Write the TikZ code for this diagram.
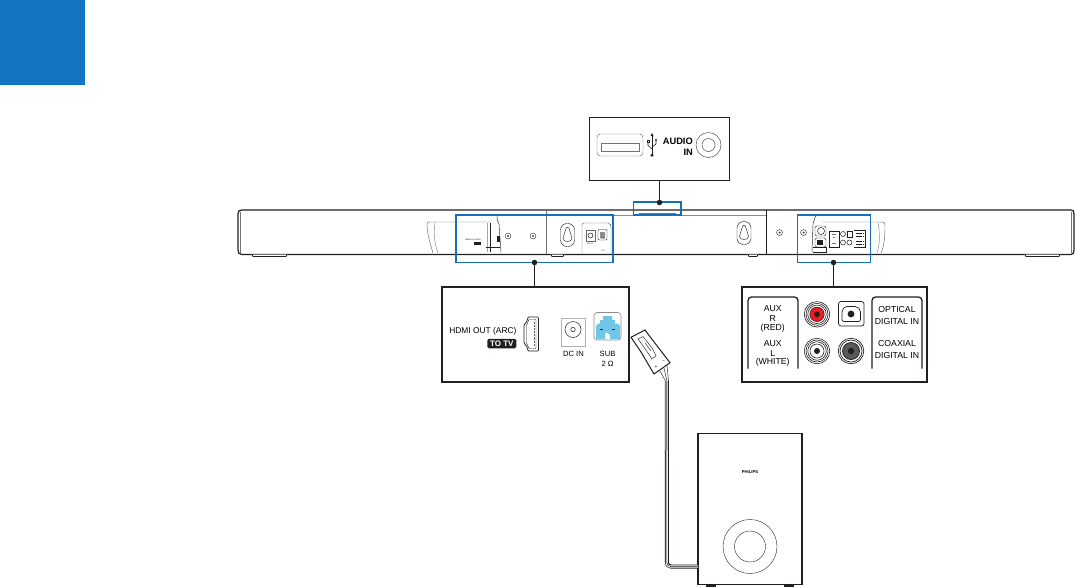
\documentclass[tikz,border=0pt]{standalone}
\usepackage{fontspec}
\setmainfont{Liberation Sans}
\definecolor{tabblue}{HTML}{1474C4}
\definecolor{callblue}{HTML}{1570B8}
\definecolor{inkdark}{HTML}{231F20}
\definecolor{subcyan}{HTML}{6FC6E6}
\definecolor{rcared}{HTML}{ED1C24}
\newcommand{\lbl}[1]{\fontsize{8.7}{10}\selectfont #1}
\newcommand{\tinylbl}[1]{\fontsize{2}{2}\selectfont #1}
\tikzset{
  x=1pt,y=-1pt,
  panel/.style={draw=inkdark,line width=2pt,fill=white,minimum width=#1,inner sep=0pt,outer sep=0pt},
  callout/.style={draw=callblue,line width=1.5pt,inner sep=0pt,outer sep=0pt},
  pin/.style={circle,fill=inkdark,minimum size=5.5pt,inner sep=0pt},
  leader/.style={draw=inkdark,line width=1.2pt},
  txt/.style={inner sep=0pt,font=\lbl{}},
  fine/.style={draw=inkdark,line width=.45pt},
  hair/.style={draw=black!55,line width=.45pt},
  barline/.style={draw=inkdark,line width=1.2pt},
  bracketline/.style={draw=inkdark,line width=1.3pt,rounded corners=3.5pt},
  screw/.style={circle,draw=inkdark,line width=.4pt,minimum size=6pt,inner sep=0pt},
  ring/.style={circle,draw=inkdark,line width=.5pt,inner sep=0pt},
}
\begin{document}
\begin{tikzpicture}
\useasboundingbox (0,0) rectangle (1075,587);
% blue tab
\node[fill=tabblue,minimum width=85pt,minimum height=85pt,inner sep=0pt,outer sep=0pt,anchor=north west] (tab) at (0,0) {};

% ---- sound bar
\draw[barline] (1071,210) -- (242,210) .. controls (239,210) and (238,211) .. (238,214)
  -- (238,250) .. controls (238,253) and (239,254.5) .. (242,254.5) -- (1071,254.5)
  .. controls (1073,254.5) and (1074,253) .. (1074,250) -- (1074,214) .. controls (1074,211) and (1073,210) .. (1071,210);
\draw[hair] (240,212) -- (240,253);
\draw[hair] (1071.5,212) -- (1071.5,253);
\draw[hair,draw=black!45] (546,215) -- (766,215);
\draw[draw=black!55,line width=.9pt] (546,210) -- (546,254);
\draw[draw=inkdark,line width=.8pt] (766,210) -- (766,254);
\draw[hair,line width=.8pt] (639,213.5) -- (676,213.5);
% feet
\foreach \a/\b in {252/287,551/564,748/758,1025/1060}
  \draw[draw=inkdark,line width=.8pt,fill=white] (\a,254.5) -- (\a+1,256.5) -- (\b-1,256.5) -- (\b,254.5);
% left end module
\draw[draw=black!60,line width=.45pt] (433,253) .. controls (429,240) and (427,232) .. (427,224) .. controls (427,222) and (428,222) .. (430,222) -- (490,222);
\draw[draw=black!45,line width=.5pt] (435,222.7) .. controls (433,235) and (435,245) .. (438,253);
\draw[draw=black!35,line width=.9pt] (487,223) -- (487,252);
\draw[fine] (490,223) -- (490,252);
\draw[fine] (497,216) .. controls (497,221) and (498,222) .. (499,224) -- (501,252.5);
\draw[fine] (486,247) -- (500,247);
\fill[inkdark] (497,236) rectangle (499.5,242);
\node[inner sep=0pt] (minihdmi) at (473,240) {\tinylbl{HDMI OUT (ARC)}};
\node[fill=inkdark,minimum width=7pt,minimum height=3pt,inner sep=0pt] (minitv) at (477,243.5) {};
% screws
\foreach \n/\x/\y in {s1/508/236,s2/533/236,s3/779.5/232.5,s4/803.5/232.5}{
  \node[screw] (\n) at (\x,\y) {};
  \fill[inkdark] (\x,\y) circle (1pt);
}
% keyholes
\foreach \x/\y in {567.5/235,744/233}{
  \draw[fine,rounded corners=6.5pt] (\x-7,\y-11.5) rectangle (\x+7,\y+11.5);
  \draw[fine] (\x-2,\y-5) .. controls (\x-2,\y-8.5) and (\x+2,\y-8.5) .. (\x+2,\y-5) .. controls (\x+2,\y-2) and (\x+4.5,\y+0) .. (\x+4.5,\y+3.5) .. controls (\x+4.5,\y+7.5) and (\x-4.5,\y+7.5) .. (\x-4.5,\y+3.5) .. controls (\x-4.5,\y+0) and (\x-2,\y-2) .. cycle;
}
% plate with DC / SUB
\draw[draw=black!60,line width=.45pt,rounded corners=2pt] (582,254) -- (582,223) -- (610,223) -- (611,226) -- (611,254);
\draw[draw=black!60,line width=.45pt] (586,230) rectangle (595,241);
\node[ring,minimum size=5pt] (miniDC) at (590.5,235.5) {};
\draw[fine,rounded corners=1pt] (598,229.5) rectangle (607,240);
\fill[black!45] (600,232) rectangle (605,238);
\node[inner sep=0pt] (miniDCt) at (590,243.5) {\tinylbl{DC IN}};
\node[inner sep=0pt,align=center] (miniSUBt) at (603,245) {\tinylbl{SUB}\\[-.5pt]\tinylbl{2 Ω}};
% right end module
\draw[draw=black!60,line width=.45pt] (823,222) -- (880,222) .. controls (884,222) and (885,222) .. (885,226) .. controls (885,238) and (884,246) .. (881,253);
\draw[draw=black!45,line width=.5pt] (878,222.5) .. controls (880,235) and (880,244) .. (877,253);
\draw[fine] (815.5,216) -- (813,224) -- (812,252);
\draw[fine] (813,252) -- (826,252) -- (826,247) -- (813,247);
\draw[fine,rounded corners=1.5pt] (815,226) rectangle (826,236);
\draw[fine,rounded corners=1.5pt] (815,238) rectangle (826,247);
\node[ring,minimum size=7pt] (miniA) at (821,231) {};
\fill[inkdark] (817,240) rectangle (823,245);
\draw[fine] (829,231) -- (839,231) -- (839,247) -- (829,247) -- cycle;
\draw[hair] (832,234) -- (836,234) (833,237) -- (835,237) (832,243) -- (836,243);
\node[ring,minimum size=5pt] (miniB) at (843,234) {};
\node[ring,minimum size=5pt] (miniC) at (843,242.5) {};
\draw[fine] (847,231) rectangle (852,237);
\node[ring,minimum size=5pt] (miniD) at (849.5,242.5) {};
\draw[fine] (854,230) -- (865,230) -- (865,247) -- (854,247);
\foreach \y in {233.5,236.5,241.5,244.5}
  \draw[inkdark,line width=1pt,dash pattern=on 1.2pt off .7pt] (855.5,\y) -- (864,\y);

% ---- callouts on the bar
\node[callout,minimum width=157pt,minimum height=47.5pt,anchor=north west] (callL) at (456,215) {};
\node[callout,minimum width=73pt,minimum height=47.5pt,anchor=north west] (callR) at (797.5,215) {};
\node[callout,minimum width=47.5pt,minimum height=13pt,anchor=north west] (callT) at (633.5,202) {};
\node[pin] (pinL) at (534.5,262.5) {};
\node[pin] (pinR) at (833.5,262.5) {};
\node[pin] (pinT) at (659.5,202.5) {};

% ---- top panel
\node[panel=140pt,line width=1.2pt,minimum height=63pt,anchor=north west] (panelT) at (589.3,117.5) {};
\draw[leader] (panelT.south -| pinT) -- (pinT);
\draw[hair,rounded corners=3.5pt] (597,134) rectangle (643,156);
\draw[hair] (601.5,143.3) rectangle (639.5,151);
\draw[fine,line width=.7pt] (652,135) -- (652,155);
\fill[inkdark] (652,133) -- (650.5,136) -- (653.5,136) -- cycle;
\fill[inkdark] (652,155.2) circle (1.6pt);
\draw[fine,line width=.6pt] (652,149) -- (648,145.5) -- (648,142);
\draw[fine,line width=.6pt] (652,147) -- (656,144) -- (656,141);
\fill[inkdark] (656,140) circle (1.2pt);
\draw[fine,fill=white] (646.9,140) rectangle (649.1,142);
\node[txt,anchor=east,font=\fontsize{9.3}{10}\selectfont\bfseries] (tAudio) at (693,141) {AUDIO};
\node[txt,anchor=east,font=\fontsize{9.3}{10}\selectfont\bfseries] (tIn) at (693,152.5) {IN};
\node[ring,minimum size=25pt,draw=black!70] (jackO) at (708.5,145) {};
\node[ring,minimum size=13pt,draw=black!70] (jackI) at (708.5,145) {};

% ---- HDMI panel
\node[panel=187pt,minimum height=95pt,anchor=north west] (panelH) at (441.5,286.7) {};
\draw[leader] (pinL) -- (panelH.north -| pinL);
\node[txt,anchor=east] (tHdmi) at (516.7,331.5) {\fontsize{8.4}{10}\selectfont HDMI OUT (ARC)};
\node[fill=inkdark,text=white,rounded corners=1.5pt,minimum width=29pt,minimum height=9.5pt,inner sep=0pt,font=\fontsize{8}{10}\selectfont\bfseries] (tTv) at (501.8,343.5) {TO TV};
\draw[fine,line width=.7pt,rounded corners=1pt] (528,317) -- (538.5,317) -- (538.5,351) -- (528,351) -- (527,347) -- (524,343) -- (524,325) -- (527,321) -- cycle;
\draw[fine,rounded corners=.5pt] (529,319.5) -- (536,319.5) -- (536,348.5) -- (529,348.5) -- (526.5,343) -- (526.5,325) -- cycle;
\draw[hair,draw=black!60,densely dotted] (534.5,322) -- (534.5,346);
\draw[draw=black!30,line width=.7pt] (561,318) rectangle (585,346);
\node[ring,minimum size=16pt] (dcO) at (573,329.5) {};
\node[ring,minimum size=4.5pt] (dcI) at (573,329.5) {};
\node[txt] (tDc) at (573.5,353.5) {\fontsize{7.6}{10}\selectfont DC IN};
\draw[draw=black!45,line width=.6pt,rounded corners=3pt] (594,312.5) rectangle (621,340);
\fill[subcyan] (603,316) -- (612,316) -- (612,320) -- (615,320) -- (615,323.5) -- (618,323.5) -- (620,326) -- (620,339) -- (610,339) -- (610,335) -- (606,332) -- (605,335) -- (605,339) -- (596,339) -- (596,326) -- (598,323.5) -- (600,323.5) -- (600,320) -- (603,320) -- cycle;
\fill[inkdark] (600,329) rectangle (603,330.2);
\fill[inkdark] (612,329) rectangle (615,330.2);
\node[txt] (tSub) at (607.5,353.5) {\fontsize{7.6}{10}\selectfont SUB};
\node[txt] (tOhm) at (607.5,363.5) {\fontsize{7.6}{10}\selectfont 2 Ω};

% ---- AUX panel
\node[panel=185pt,minimum height=95pt,anchor=north west] (panelA) at (741.5,286.7) {};
\draw[leader] (pinR) -- (panelA.north -| pinR);
\draw[bracketline] (748,368.5) -- (748,297) -- (798,297) -- (798,368.5);
\draw[bracketline] (872,368.5) -- (872,297) -- (922,297) -- (922,368.5);
\node[txt] (tA1) at (772.7,309) {AUX};
\node[txt] (tA2) at (772.7,318.5) {R};
\node[txt] (tA3) at (772.7,328) {(RED)};
\node[txt] (tA4) at (772.7,343.5) {AUX};
\node[txt] (tA5) at (772.7,353) {L};
\node[txt] (tA6) at (772.7,362.5) {(WHITE)};
\node[txt] (tO1) at (897,309) {OPTICAL};
\node[txt] (tO2) at (897,321) {DIGITAL IN};
\node[txt] (tO3) at (897,343.5) {COAXIAL};
\node[txt] (tO4) at (897,355) {DIGITAL IN};
% RCA red
\foreach \r in {25.5,22,18.5}
  \draw[fine,line width=.6pt] (817,314.3) circle (\r/2);
\fill[rcared] (817,314.3) circle (7.2pt);
\draw[inkdark,line width=.6pt] (817,314.3) circle (7.2pt);
\fill[inkdark] (817,314.3) circle (2.8pt);
% RCA white
\foreach \r in {25.5,22,18.5,14}
  \draw[fine,line width=.6pt] (817,351) circle (\r/2);
\fill[inkdark] (817,351) circle (3pt);
% optical
\draw[fine,line width=.7pt,rounded corners=2.5pt] (838.5,301.5) rectangle (864,326);
\draw[fine,line width=.7pt,rounded corners=2pt] (842,310) -- (845,306.5) -- (857,306.5) -- (860.5,310) -- (860.5,321.5) -- (842,321.5) -- cycle;
\fill[inkdark] (851,314) circle (3.4pt);
% coaxial
\foreach \r in {25.5,22}
  \draw[fine,line width=.7pt] (851,351) circle (\r/2);
\fill[black!65] (851,351) circle (8.5pt);
\draw[inkdark,line width=.8pt] (851,351) circle (8.5pt);
\fill[inkdark] (851,351) circle (3.2pt);

% ---- subwoofer
\node[draw=inkdark,line width=1.2pt,fill=white,minimum width=104pt,minimum height=151.5pt,inner sep=0pt,outer sep=0pt,anchor=north west] (sub) at (698,433.3) {};
\foreach \a in {706,784}
  \fill[inkdark] (\a,585) rectangle (\a+10,587);
\node[inner sep=0pt,font=\fontsize{4.2}{5}\selectfont\bfseries] (tPhilips) at (750,472.5) {PHILIPS};
\node[ring,line width=.4pt,minimum size=54pt] (coneO) at (750,546.5) {};
\node[ring,line width=.4pt,minimum size=31pt] (coneI) at (750,546.5) {};

% ---- plug and cable
\coordinate (plugend) at (664,371);
\coordinate (subin) at (sub.west |- 0,566.5);
\draw[black!70,line width=.6pt] (660,371) -- (665.5,381);
\draw[black!70,line width=.6pt] (664,368) -- (667,381);
\draw[black!70,line width=.6pt] (667,365) -- (668.5,381);
\draw[inkdark,line width=4pt,rounded corners=4pt] (666.8,381) -- (666.8,566.5) -- (subin);
\draw[black!50,line width=3pt] (666.8,381) -- (666.8,450);
\draw[white,line width=2.1pt,rounded corners=3.2pt] (666.8,450) -- (666.8,566.5) -- (subin);
\draw[inkdark,line width=.5pt,rounded corners=4pt] (666.8,450) -- (666.8,566.5) -- (subin);
\draw[black!20,line width=.5pt] (666.8,381) -- (666.8,450);
\draw[fill=white,draw=inkdark,line width=1pt] (631,337.3) -- (645,330) -- (651,338) -- (670,362.7) -- (654,374) -- (641,352) -- cycle;
\draw[fine] (638,339) -- (643,336.5) -- (652,348) -- (656,356) -- (652,359) -- (648,353) -- cycle;
\draw[fine] (645,343) -- (651,351);
\node[inner sep=0pt,font=\fontsize{5}{5}\selectfont] (tPlus) at (656,367.5) {+};
\node[inner sep=0pt,font=\fontsize{5}{5}\selectfont] (tMinus) at (663.5,361.5) {−};
\end{tikzpicture}
\end{document}
